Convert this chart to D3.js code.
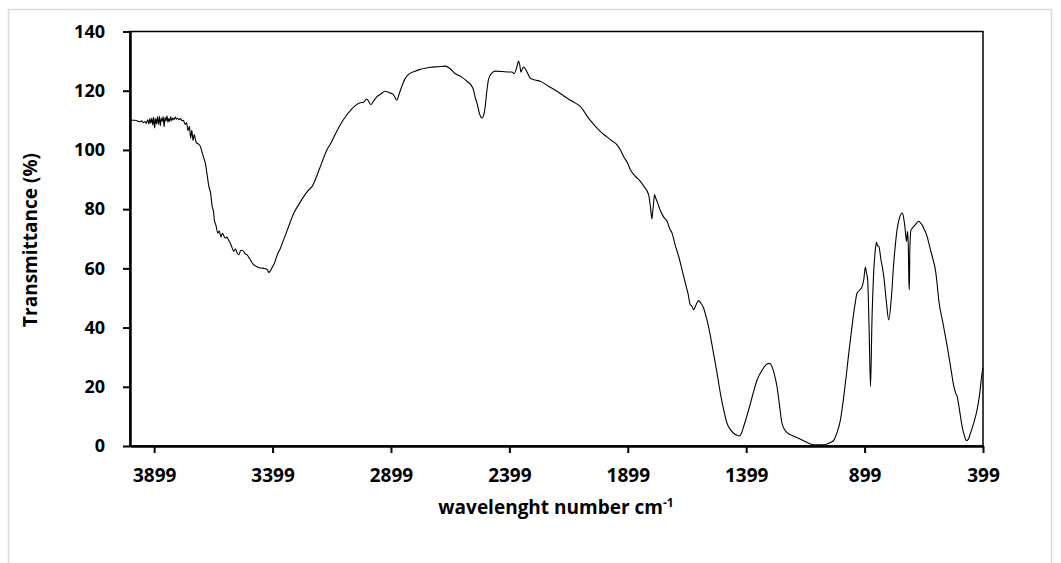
<!DOCTYPE html>
<html>
<head>
<meta charset="utf-8">
<script src="https://cdn.jsdelivr.net/npm/d3@7"></script>
<style>
  body { margin: 0; background: #fff; }
  text { font-family: "Open Sans", sans-serif; font-weight: bold; fill: #000; }
</style>
</head>
<body>
<svg id="chart" width="1061" height="563"></svg>
<script>
// FTIR spectrum (wavenumber in cm-1, transmittance in %)
const wavenumbers = [
  4001, 3990, 3980, 3970, 3960, 3952, 3945, 3938, 3932, 3926,
  3921, 3917, 3913, 3909, 3905, 3901, 3897, 3893, 3889, 3885,
  3881, 3877, 3873, 3869, 3865, 3861, 3857, 3853, 3849, 3845,
  3841, 3837, 3833, 3829, 3825, 3820, 3815, 3810, 3805, 3800,
  3794, 3788, 3782, 3776,
  3768, 3762, 3756, 3750, 3745, 3740, 3735, 3730, 3725, 3720,
  3712, 3704, 3696, 3690, 3683, 3676, 3668, 3661, 3654, 3648,
  3645, 3638, 3630, 3624, 3617, 3611, 3605,
  3598, 3592, 3584, 3577, 3570, 3563, 3556, 3549, 3541, 3534,
  3528, 3520, 3513, 3507, 3500, 3492, 3485, 3478, 3466, 3455,
  3445, 3436, 3427, 3420, 3415, 3408, 3400, 3394, 3380, 3366, 3352,
  3330, 3309, 3288, 3267, 3250, 3232, 3200, 3169, 3156, 3130,
  3100, 3065, 3029, 3015, 3001, 2984,
  2970, 2959, 2940, 2924, 2905, 2889, 2874, 2865, 2853, 2840,
  2825, 2800, 2776, 2755, 2733, 2700, 2670,
  2650, 2628, 2600, 2578, 2560, 2551, 2543, 2536, 2525, 2515,
  2508, 2501, 2494, 2487, 2475, 2459,
  2430, 2400, 2388, 2379, 2368, 2360, 2355, 2350, 2345, 2339,
  2325, 2311, 2290, 2269, 2235,
  2198, 2170, 2142, 2120, 2100, 2085, 2071, 2045, 2015, 2000,
  1987, 1965, 1945, 1930, 1917, 1900,
  1888, 1875, 1867, 1857, 1846, 1830, 1811, 1803, 1797, 1793,
  1790, 1786, 1783, 1773, 1762, 1748,
  1733, 1722, 1712, 1700, 1684, 1670, 1656, 1645, 1635, 1628,
  1621, 1610, 1600, 1590, 1579, 1568,
  1558, 1537, 1522, 1508, 1494, 1480, 1466, 1452, 1440, 1428,
  1419, 1410, 1395, 1381, 1367, 1353,
  1332, 1311, 1300, 1290, 1280, 1269, 1258, 1248, 1237, 1226,
  1200, 1170, 1150, 1128, 1100, 1080,
  1057, 1043, 1029, 1015, 1001, 987, 976, 966, 955, 945,
  938, 931, 920, 909, 902, 896,
  891, 886, 880, 874, 868, 860, 854, 849, 844, 839,
  830, 818, 808, 797, 786, 776,
  769, 762, 751, 740, 734, 729, 725, 722, 719, 717,
  714, 712, 710, 708, 703, 697,
  691, 680, 670, 663, 656, 645, 635, 628, 621, 610,
  600, 593, 586, 568, 550, 536, 522, 515, 508, 497,
  487, 478, 469, 460, 452, 438, 424, 413, 403, 399
];
const transmittance = [
  110.2, 110.0, 110.0, 109.8, 109.5, 109.8, 109.2, 109.6, 109.0, 110.2,
  108.8, 110.6, 109.0, 110.8, 108.4, 111.0, 107.4, 110.6, 108.8, 111.2,
  108.6, 111.4, 108.2, 110.8, 109.6, 111.3, 107.8, 110.9, 109.8, 111.5,
  109.4, 110.6, 109.6, 111.2, 109.9, 110.8, 110.2, 111.1, 110.4, 110.7,
  110.2, 110.6, 109.9, 110.0,
  108.6, 109.2, 106.5, 108.0, 104.0, 106.6, 103.2, 105.2, 103.6, 102.4,
  102.0, 101.2, 99.0, 97.4, 95.6, 92.0, 87.7, 85.5, 80.9, 79.0,
  76.4, 74.5, 71.9, 72.6, 70.6, 71.8, 71.0,
  70.2, 70.6, 69.4, 68.4, 67.0, 65.7, 66.6, 65.2, 64.6, 66.0,
  66.1, 65.6, 64.8, 64.6, 63.8, 62.8, 61.8, 61.2, 60.6, 60.2,
  60.1, 60.0, 59.8, 59.4, 58.6, 59.2, 60.4, 61.2, 64.4, 66.8, 69.7,
  74.4, 78.7, 81.6, 84.3, 86.2, 87.7, 93.8, 100.1, 101.8, 106.0,
  110.2, 113.8, 115.9, 116.1, 117.2, 115.3,
  116.8, 117.9, 119.0, 119.8, 119.3, 118.7, 116.8, 118.8, 121.5, 124.0,
  125.5, 126.5, 127.2, 127.6, 127.9, 128.1, 128.3,
  127.5, 125.8, 124.6, 123.2, 121.8, 120.4, 117.6, 115.9, 112.2, 110.8,
  111.6, 114.7, 120.0, 123.8, 125.8, 126.6,
  126.5, 126.3, 126.3, 125.8, 127.8, 130.0, 128.6, 126.3, 127.2, 128.0,
  126.4, 124.3, 123.6, 123.2, 121.6,
  119.8, 118.3, 116.8, 115.8, 114.7, 113.2, 111.4, 108.8, 106.3, 105.2,
  104.4, 103.0, 101.8, 100.0, 97.8, 95.6,
  93.3, 91.8, 91.1, 90.3, 89.4, 87.6, 84.9, 80.5, 76.7, 79.8,
  82.1, 84.9, 84.2, 82.1, 79.6, 77.4,
  75.9, 73.4, 71.9, 68.2, 64.0, 59.6, 55.0, 51.6, 47.7, 47.2,
  46.0, 47.8, 49.1, 48.2, 46.6, 43.6,
  40.3, 31.3, 24.6, 17.8, 12.2, 7.7, 5.6, 4.3, 3.7, 3.4,
  4.3, 6.5, 10.4, 14.4, 18.6, 22.3,
  25.6, 27.7, 27.9, 26.8, 24.2, 20.1, 13.6, 7.7, 5.6, 4.5,
  3.4, 2.3, 1.5, 0.7, 0.4, 0.4,
  0.7, 1.2, 2.0, 4.6, 8.8, 16.7, 24.0, 31.3, 38.5, 44.9,
  48.6, 51.6, 52.6, 53.9, 56.5, 60.4,
  58.5, 56.1, 40.0, 20.1, 42.0, 59.5, 66.0, 68.8, 67.6, 67.4,
  63.0, 57.3, 49.5, 42.6, 50.0, 61.8,
  68.0, 73.0, 77.2, 78.7, 77.0, 74.2, 71.0, 69.1, 71.5, 72.5,
  66.0, 56.0, 52.8, 66.0, 73.0, 73.6,
  74.2, 75.2, 75.9, 75.4, 74.7, 72.8, 70.8, 68.6, 66.3, 63.0,
  59.5, 55.0, 49.4, 41.5, 33.6, 26.8, 20.1, 18.0, 16.7, 11.5,
  6.5, 3.6, 1.8, 2.4, 4.3, 7.8, 12.2, 17.6, 24.6, 26.4
];
const xTicks = [3899, 3399, 2899, 2399, 1899, 1399, 899, 399];
const yTicks = [0, 20, 40, 60, 80, 100, 120, 140];

const spectrum = wavenumbers.map((w, i) => ({ w: w, t: transmittance[i] }));

const svg = d3.select("#chart");
const plotLeft = 130, plotRight = 983, plotTop = 31.5, plotBottom = 446;

// chart area border
svg.append("rect")
  .attr("x", 8.5).attr("y", 9.5)
  .attr("width", 1043).attr("height", 600)
  .attr("fill", "none")
  .attr("stroke", "#d9d9d9")
  .attr("stroke-width", 1.5);

const x = d3.scaleLinear().domain([4001, 399]).range([plotLeft, plotRight]);
const y = d3.scaleLinear().domain([0, 140]).range([plotBottom, plotTop]);

// plot area frame
svg.append("rect")
  .attr("x", plotLeft).attr("y", plotTop)
  .attr("width", plotRight - plotLeft).attr("height", plotBottom - plotTop)
  .attr("fill", "none")
  .attr("stroke", "#000")
  .attr("stroke-width", 1.5);

const line = d3.line()
  .x(d => x(d.w))
  .y(d => y(d.t))
  .curve(d3.curveMonotoneX);

svg.append("path")
  .datum(spectrum)
  .attr("fill", "none")
  .attr("stroke", "#000")
  .attr("stroke-width", 1.1)
  .attr("stroke-linejoin", "round")
  .attr("d", line);

const xAxis = svg.append("g")
  .attr("transform", `translate(0,${plotBottom})`)
  .call(d3.axisBottom(x).tickValues(xTicks).tickFormat(d3.format("d"))
    .tickSize(7).tickSizeOuter(0).tickPadding(16));
xAxis.select(".domain").attr("stroke-width", 2.5);
xAxis.selectAll(".tick line").attr("stroke-width", 2);
xAxis.selectAll("text").style("font-size", "19px");

const yAxis = svg.append("g")
  .attr("transform", `translate(${plotLeft},0)`)
  .call(d3.axisLeft(y).tickValues(yTicks).tickSize(7).tickSizeOuter(0).tickPadding(18));
yAxis.select(".domain").attr("stroke-width", 2.5);
yAxis.selectAll(".tick line").attr("stroke-width", 2);
yAxis.selectAll("text").style("font-size", "18px");

svg.append("text")
  .attr("transform", "translate(37,240) rotate(-90)")
  .attr("text-anchor", "middle")
  .style("font-size", "19px")
  .text("Transmittance (%)");

const xTitle = svg.append("text")
  .attr("x", 556).attr("y", 514)
  .attr("text-anchor", "middle")
  .style("font-size", "19px");
xTitle.append("tspan").text("wavelenght number cm");
xTitle.append("tspan").attr("dy", -7).style("font-size", "12px").text("-1");
</script>
</body>
</html>
